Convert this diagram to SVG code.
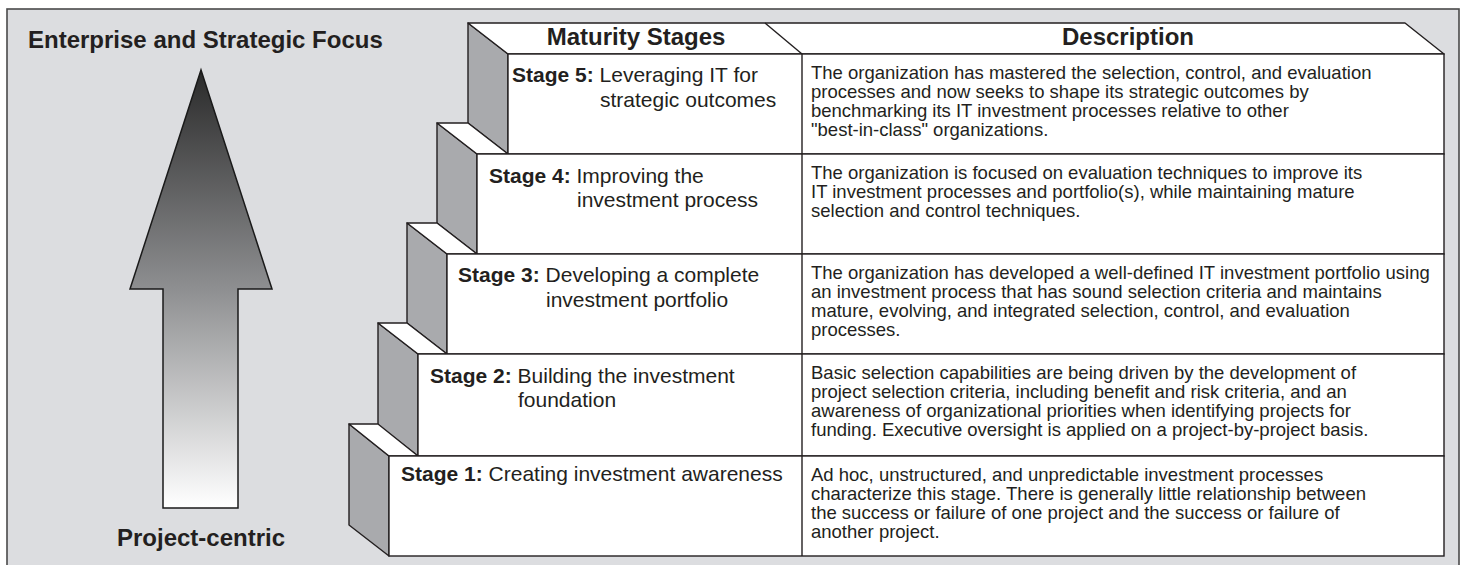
<svg xmlns="http://www.w3.org/2000/svg" width="1463" height="565" viewBox="0 0 1463 565">
<defs>
<linearGradient id="arrowGrad" gradientUnits="userSpaceOnUse" x1="0" y1="70" x2="0" y2="508">
<stop offset="0" stop-color="#2a2a2a"/>
<stop offset="0.5" stop-color="#8e8f91"/>
<stop offset="1" stop-color="#ffffff"/>
</linearGradient>
<style>
.frame{fill:#dcdde0;stroke:#4a4a4a;stroke-width:1.6}
.side{fill:#a9aaad;stroke:#231f20;stroke-width:1.4;stroke-linejoin:round}
.top{fill:#ffffff;stroke:#231f20;stroke-width:1.4;stroke-linejoin:round}
.front{fill:#ffffff;stroke:#231f20;stroke-width:1.4}
.div{stroke:#231f20;stroke-width:1.4}
text{font-family:"Liberation Sans",Arial,Helvetica,sans-serif;fill:#231f20}
.big{font-size:24px;font-weight:bold}
.lbl{font-size:21px}
.b{font-weight:bold}
.desc{font-size:18.5px}
</style>
</defs>
<rect class="frame" x="7" y="9" width="1452" height="570"/>

<g id="title-top"><text class="big" x="28" y="48">Enterprise and Strategic Focus</text></g>
<g id="title-bottom"><text class="big" x="201" y="546" text-anchor="middle">Project-centric</text></g>

<g id="connectors">
<path id="focus-arrow" d="M201,70 L272,289 L238,289 L238,508 L163,508 L163,289 L130,289 Z" fill="url(#arrowGrad)" stroke="#1a1a1a" stroke-width="1.5" stroke-linejoin="miter"/>
</g>

<g id="stage5">
<polygon class="side" points="468,23 508,54 508,154 468,123"/>
<polygon class="top" points="468,23 1405,23 1444,54 508,54"/>
<line class="div" x1="765" y1="23" x2="802" y2="54"/>
<text class="big" x="636" y="45" text-anchor="middle">Maturity Stages</text>
<text class="big" x="1128" y="45" text-anchor="middle">Description</text>
<rect class="front" x="508" y="54" width="936" height="100"/>
<line class="div" x1="802" y1="54" x2="802" y2="154"/>
<text class="lbl" x="512" y="82"><tspan class="b">Stage 5:</tspan> Leveraging IT for</text>
<text class="lbl" x="600" y="107">strategic outcomes</text>
<text class="desc" x="811" y="79"><tspan x="811">The organization has mastered the selection, control, and evaluation</tspan><tspan x="811" dy="19">processes and now seeks to shape its strategic outcomes by</tspan><tspan x="811" dy="19">benchmarking its IT investment processes relative to other</tspan><tspan x="811" dy="19">"best-in-class" organizations.</tspan></text>
</g>

<g id="stage4">
<polygon class="side" points="437,123 477,154 477,254 437,223"/>
<polygon class="top" points="437,123 468,123 508,154 477,154"/>
<rect class="front" x="477" y="154" width="967" height="100"/>
<line class="div" x1="802" y1="154" x2="802" y2="254"/>
<text class="lbl" x="489" y="183"><tspan class="b">Stage 4:</tspan> Improving the</text>
<text class="lbl" x="577" y="207">investment process</text>
<text class="desc" x="811" y="179"><tspan x="811">The organization is focused on evaluation techniques to improve its</tspan><tspan x="811" dy="19">IT investment processes and portfolio(s), while maintaining mature</tspan><tspan x="811" dy="19">selection and control techniques.</tspan></text>
</g>

<g id="stage3">
<polygon class="side" points="407,223 447,254 447,354 407,323"/>
<polygon class="top" points="407,223 437,223 477,254 447,254"/>
<rect class="front" x="447" y="254" width="997" height="100"/>
<line class="div" x1="802" y1="254" x2="802" y2="354"/>
<text class="lbl" x="458" y="282"><tspan class="b">Stage 3:</tspan> Developing a complete</text>
<text class="lbl" x="546" y="307">investment portfolio</text>
<text class="desc" x="811" y="279"><tspan x="811">The organization has developed a well-defined IT investment portfolio using</tspan><tspan x="811" dy="19">an investment process that has sound selection criteria and maintains</tspan><tspan x="811" dy="19">mature, evolving, and integrated selection, control, and evaluation</tspan><tspan x="811" dy="19">processes.</tspan></text>
</g>

<g id="stage2">
<polygon class="side" points="378,323 418,354 418,456 378,425"/>
<polygon class="top" points="378,323 407,323 447,354 418,354"/>
<rect class="front" x="418" y="354" width="1026" height="102"/>
<line class="div" x1="802" y1="354" x2="802" y2="456"/>
<text class="lbl" x="430" y="383"><tspan class="b">Stage 2:</tspan> Building the investment</text>
<text class="lbl" x="518" y="407">foundation</text>
<text class="desc" x="811" y="379"><tspan x="811">Basic selection capabilities are being driven by the development of</tspan><tspan x="811" dy="19">project selection criteria, including benefit and risk criteria, and an</tspan><tspan x="811" dy="19">awareness of organizational priorities when identifying projects for</tspan><tspan x="811" dy="19">funding. Executive oversight is applied on a project-by-project basis.</tspan></text>
</g>

<g id="stage1">
<polygon class="side" points="349,424 389,456 389,556 349,525"/>
<polygon class="top" points="349,424 378,424 418,456 389,456"/>
<rect class="front" x="389" y="456" width="1055" height="100"/>
<line class="div" x1="802" y1="456" x2="802" y2="556"/>
<text class="lbl" x="401" y="481"><tspan class="b">Stage 1:</tspan> Creating investment awareness</text>
<text class="desc" x="811" y="481"><tspan x="811">Ad hoc, unstructured, and unpredictable investment processes</tspan><tspan x="811" dy="19">characterize this stage. There is generally little relationship between</tspan><tspan x="811" dy="19">the success or failure of one project and the success or failure of</tspan><tspan x="811" dy="19">another project.</tspan></text>
</g>
</svg>
